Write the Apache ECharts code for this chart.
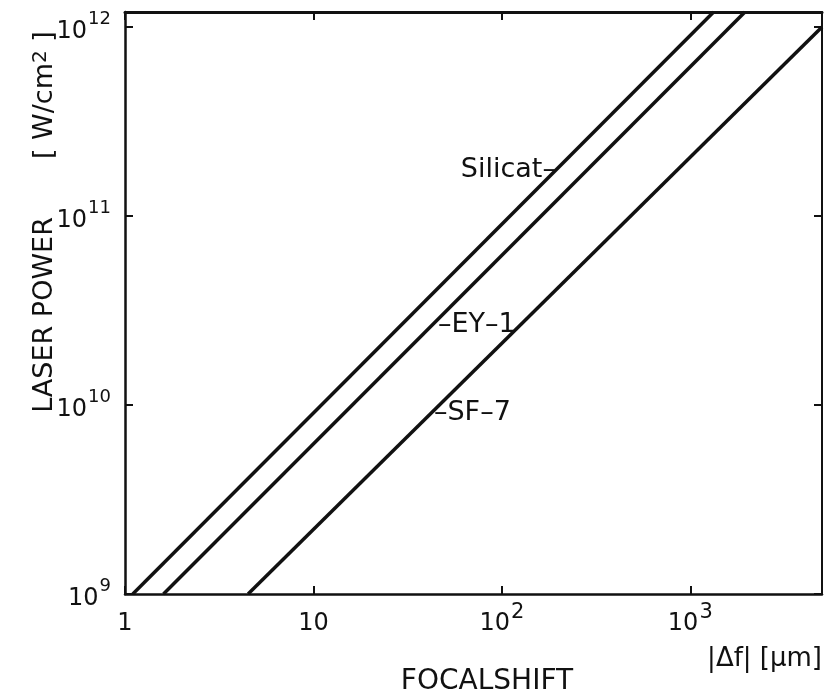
<!DOCTYPE html>
<html>
<head>
<meta charset="utf-8">
<style>
html,body{margin:0;padding:0;background:#fff;}
#chart{width:824px;height:694px;}
</style>
<script src="https://cdn.jsdelivr.net/npm/echarts@6/dist/echarts.min.js"></script>
</head>
<body>
<div id="chart"></div>
<script>
// ---- data ----
var seriesNames = ['Silicat', 'EY-1', 'SF-7'];
var silicatX = [1.1, 1330];
var silicatY = [1e9, 1.2e12];
var ey1X = [1.6, 1950];
var ey1Y = [1e9, 1.2e12];
var sf7X = [4.5, 5000];
var sf7Y = [1e9, 1e12];

var xTickExp = [0, 1, 2, 3];
var yTickExp = [9, 10, 11, 12];
var xMin = 1, xMax = 5000;
var yMin = 1e9, yMax = 1.2e12;

var labelText = ['Silicat\u2013', '\u2013EY\u20131', '\u2013SF\u20137'];
var labelX = [196, 45.3, 43.1];
var labelY = [1.75e11, 2.65e10, 9.1e9];
var labelPos = ['left', 'right', 'right'];

var xTitle = 'FOCALSHIFT';
var xUnit = '|\u0394f| [\u03bcm]';
var yTitle = 'LASER POWER';
var yUnit = '[ W/cm';

function pairs(xs, ys) { return xs.map(function (x, i) { return [x, ys[i]]; }); }

var INK = '#111111';
var FONT = 'DejaVu Sans';

function powLabel(list, v) {
  var l = Math.log10(v);
  var e = Math.round(l);
  if (Math.abs(l - e) > 1e-6 || list.indexOf(e) < 0) return '';
  if (e === 0) return '{h|}{b|1}';
  if (e === 1) return '{h|}{b|10}';
  return '{h|}{b|10}{s|' + e + '}';
}

function richFor(supSize) {
  return {
    h: { height: 34, width: 0, fontSize: 24 },
    b: { fontSize: 24, lineHeight: 24, verticalAlign: 'bottom', color: INK, fontFamily: FONT },
    s: { fontSize: supSize, lineHeight: supSize, verticalAlign: 'top', padding: [0, 0, 0, 1], color: INK, fontFamily: FONT }
  };
}

var chart = echarts.init(document.getElementById('chart'), null, { renderer: 'canvas' });

var lineSeries = [pairs(silicatX, silicatY), pairs(ey1X, ey1Y), pairs(sf7X, sf7Y)].map(function (d, i) {
  return {
    name: seriesNames[i],
    type: 'line',
    data: d,
    showSymbol: false,
    symbol: 'none',
    clip: true,
    lineStyle: { color: INK, width: 3.5 },
    animation: false,
    z: 3
  };
});

var labelSeries = {
  type: 'scatter',
  symbolSize: 0,
  silent: true,
  animation: false,
  itemStyle: { opacity: 1 },
  data: labelX.map(function (x, i) {
    return {
      value: [x, labelY[i]],
      label: {
        show: true,
        formatter: labelText[i],
        position: labelPos[i],
        distance: 1,
        fontSize: 27,
        fontFamily: FONT,
        color: INK,
        opacity: 1
      }
    };
  }),
  z: 4
};

var axisBase = {
  type: 'log',
  logBase: 10,
  splitLine: { show: false },
  minorTick: { show: false },
  axisTick: { show: true, inside: true, length: 8, lineStyle: { color: INK, width: 2 } }
};

chart.setOption({
  backgroundColor: '#ffffff',
  animation: false,
  grid: { left: 125, right: 2, top: 12, bottom: 100, outerBoundsMode: 'none', containLabel: false },
  xAxis: [
    Object.assign({}, axisBase, {
      position: 'bottom',
      min: xMin, max: xMax,
      axisLine: { show: true, lineStyle: { color: INK, width: 2.5 } },
      axisLabel: {
        show: true, margin: 8, showMaxLabel: false, showMinLabel: true,
        fontSize: 24, fontFamily: FONT, color: INK,
        formatter: function (v) { return powLabel(xTickExp, v); },
        rich: richFor(21)
      },
      name: xTitle,
      nameLocation: 'middle',
      nameGap: 74,
      nameMoveOverlap: false,
      nameTextStyle: { fontSize: 28, fontFamily: FONT, color: INK, padding: [0, 0, 0, 27] }
    }),
    Object.assign({}, axisBase, {
      position: 'top',
      min: xMin, max: xMax,
      axisLine: { show: true, lineStyle: { color: INK, width: 3 } },
      axisLabel: { show: false }
    })
  ],
  yAxis: [
    Object.assign({}, axisBase, {
      position: 'left',
      min: yMin, max: yMax,
      axisLine: { show: true, lineStyle: { color: INK, width: 2.5 } },
      axisLabel: {
        show: true, margin: 14, showMaxLabel: false, showMinLabel: true,
        fontSize: 24, fontFamily: FONT, color: INK,
        formatter: function (v) { return powLabel(yTickExp, v); },
        rich: richFor(18)
      },
      name: '{t|' + yTitle + '}{g|}{t|' + yUnit + '}{s|2}{t| ]}',
      nameLocation: 'middle',
      nameGap: 67,
      nameRotate: 90,
      nameMoveOverlap: false,
      nameTextStyle: {
        padding: [0, 0, 0, 162],
        fontSize: 27, fontFamily: FONT, color: INK,
        rich: {
          t: { fontSize: 27, lineHeight: 27, fontFamily: FONT, color: INK, verticalAlign: 'bottom' },
          g: { width: 58, fontSize: 27, lineHeight: 27 },
          s: { fontSize: 20, lineHeight: 20, fontFamily: FONT, color: INK, verticalAlign: 'top', padding: [0, 0, 10, 0] }
        }
      }
    }),
    Object.assign({}, axisBase, {
      position: 'right',
      min: yMin, max: yMax,
      axisLine: { show: true, lineStyle: { color: INK, width: 2 } },
      axisLabel: { show: false }
    })
  ],
  series: lineSeries.concat([labelSeries]),
  graphic: [
    {
      type: 'text',
      right: 2,
      top: 646,
      style: { text: xUnit, fontSize: 26, fontFamily: FONT, fill: INK }
    }
  ]
});
</script>
</body>
</html>
